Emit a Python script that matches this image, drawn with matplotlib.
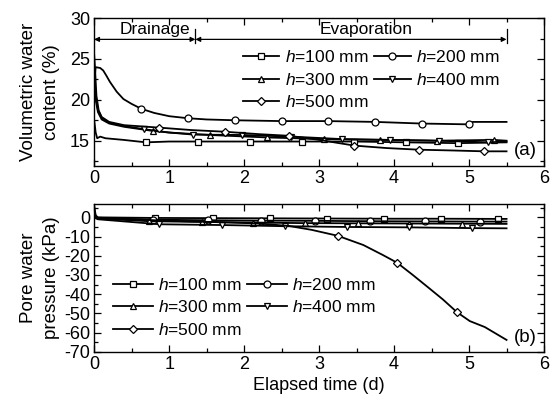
import matplotlib
matplotlib.use("Agg")
import matplotlib.pyplot as plt
from matplotlib.ticker import MultipleLocator

plt.rcParams["font.family"] = ["Liberation Sans", "DejaVu Sans"]
plt.rcParams["mathtext.fontset"] = "custom"
plt.rcParams["mathtext.rm"] = "Liberation Sans"
plt.rcParams["mathtext.it"] = "Liberation Sans:italic"
plt.rcParams["axes.unicode_minus"] = False

labels = [r"$h$=100 mm", r"$h$=200 mm", r"$h$=300 mm", r"$h$=400 mm", r"$h$=500 mm"]
markers = ["s", "o", "^", "v", "D"]

# (a) volumetric water content (%), time in days
vwc_t100 = [0, 0.02, 0.04, 0.06, 0.08, 0.15, 0.39, 0.69, 1.0, 1.39, 2.08, 2.77, 3.47, 4.16, 4.85, 5.5]
vwc_100 = [17.5, 16.0, 15.3, 15.4, 15.5, 15.3, 15.1, 14.8, 14.9, 14.9, 14.9, 14.9, 14.9, 14.8, 14.7, 14.8]
vwc_m100 = [0.69, 1.39, 2.08, 2.77, 3.47, 4.16, 4.85]

vwc_t200 = [0, 0.02, 0.08, 0.12, 0.16, 0.21, 0.3, 0.39, 0.5, 0.63, 0.8, 1.0, 1.25, 1.5, 1.88,
            2.5, 3.12, 3.75, 4.37, 5.0, 5.05, 5.5]
vwc_200 = [22.0, 24.0, 23.9, 23.6, 23.0, 22.2, 21.0, 20.1, 19.5, 18.9, 18.4, 18.0, 17.75, 17.6, 17.5,
           17.4, 17.4, 17.3, 17.1, 17.0, 17.3, 17.3]
vwc_m200 = [0.63, 1.25, 1.88, 2.5, 3.12, 3.75, 4.37, 5.0]

vwc_t300 = [0, 0.02, 0.05, 0.1, 0.2, 0.4, 0.78, 1.0, 1.54, 2.3, 3.06, 3.81, 4.57, 5.33, 5.5]
vwc_300 = [22.5, 20.0, 18.5, 17.6, 17.1, 16.7, 16.2, 16.0, 15.7, 15.4, 15.2, 15.1, 15.0, 15.1, 15.0]
vwc_m300 = [0.78, 1.54, 2.3, 3.06, 3.81, 4.57, 5.33]

vwc_t400 = [0, 0.02, 0.05, 0.1, 0.2, 0.4, 0.67, 1.0, 1.32, 1.97, 2.63, 3.3, 3.95, 4.6, 5.25, 5.5]
vwc_400 = [23.0, 20.5, 18.8, 17.8, 17.2, 16.8, 16.4, 16.0, 15.75, 15.7, 15.5, 15.2, 15.1, 15.0, 14.8, 14.9]
vwc_m400 = [0.67, 1.32, 1.97, 2.63, 3.3, 3.95, 4.6, 5.25]

vwc_t500 = [0, 0.01, 0.03, 0.06, 0.1, 0.2, 0.4, 0.87, 1.3, 1.74, 2.2, 2.6, 3.0, 3.47, 3.9, 4.33,
            4.8, 5.2, 5.5]
vwc_500 = [25.5, 24.0, 20.5, 18.7, 17.9, 17.3, 16.9, 16.6, 16.3, 16.1, 15.8, 15.6, 15.1, 14.4, 14.1, 13.9,
           13.8, 13.7, 13.7]
vwc_m500 = [0.87, 1.74, 2.6, 3.47, 4.33, 5.2]

# (b) pore water pressure (kPa)
pwp_t100 = [0, 0.02, 0.05, 0.81, 1.58, 2.35, 3.1, 3.87, 4.63, 5.39, 5.5]
pwp_100 = [6.0, 1.0, 0.0, -0.3, -0.4, -0.5, -0.6, -0.7, -0.7, -0.8, -0.8]
pwp_m100 = [0.81, 1.58, 2.35, 3.1, 3.87, 4.63, 5.39]

pwp_t200 = [0, 0.02, 0.05, 0.78, 1.52, 2.23, 2.95, 3.68, 4.41, 5.14, 5.5]
pwp_200 = [3.0, 0.5, -0.3, -1.2, -1.5, -1.7, -1.8, -2.0, -2.1, -2.2, -2.2]
pwp_m200 = [0.78, 1.52, 2.23, 2.95, 3.68, 4.41, 5.14]

pwp_t300 = [0, 0.02, 0.05, 0.73, 1.44, 2.12, 2.81, 3.52, 4.2, 4.9, 5.5]
pwp_300 = [2.0, 0.0, -0.6, -2.0, -2.4, -2.7, -3.0, -3.1, -3.2, -3.3, -3.4]
pwp_m300 = [0.73, 1.44, 2.12, 2.81, 3.52, 4.2, 4.9]

pwp_t400 = [0, 0.02, 0.05, 0.87, 1.71, 2.54, 3.37, 4.2, 5.04, 5.5]
pwp_400 = [1.0, -0.5, -1.0, -3.6, -4.0, -4.6, -5.0, -5.2, -5.6, -5.7]
pwp_m400 = [0.87, 1.71, 2.54, 3.37, 4.2, 5.04]

pwp_t500 = [0, 0.02, 0.05, 0.5, 1.0, 1.65, 2.2, 2.6, 2.9, 3.25, 3.59, 3.85, 4.04, 4.25, 4.44,
            4.65, 4.84, 5.01, 5.21, 5.5]
pwp_500 = [4.0, 0.5, -0.5, -1.0, -1.8, -2.5, -3.2, -4.5, -6.5, -9.6, -14.4, -19.6, -23.6, -30.0, -36.0,
           -42.7, -49.4, -54.0, -57.1, -63.8]
pwp_m500 = [3.25, 4.04, 4.84]

phase_edges = [0, 1.35, 5.5]
phase_names = ["Drainage", "Evaporation"]
phase_label_x = [0.81, 3.63]

vwc_series = [(vwc_t100, vwc_100, vwc_m100), (vwc_t200, vwc_200, vwc_m200),
              (vwc_t300, vwc_300, vwc_m300), (vwc_t400, vwc_400, vwc_m400),
              (vwc_t500, vwc_500, vwc_m500)]
pwp_series = [(pwp_t100, pwp_100, pwp_m100), (pwp_t200, pwp_200, pwp_m200),
              (pwp_t300, pwp_300, pwp_m300), (pwp_t400, pwp_400, pwp_m400),
              (pwp_t500, pwp_500, pwp_m500)]

# legend fills column-wise; this order reads row-wise like the original
legend_order = [0, 2, 4, 1, 3]


def draw_series(ax, series):
    lines = []
    for (t, v, marks), label, mk in zip(series, labels, markers):
        every = [i for i, ti in enumerate(t) if ti in marks]
        ln, = ax.plot(t, v, color="black", lw=1.3, marker=mk, ms=5 if mk != "D" else 4.5,
                      mfc="white", mec="black", mew=0.9, markevery=every, label=label)
        lines.append(ln)
    return [lines[i] for i in legend_order]


def style_axes(ax):
    ax.set_xlim(0, 6)
    ax.xaxis.set_major_locator(MultipleLocator(1))
    ax.xaxis.set_minor_locator(MultipleLocator(0.5))
    ax.tick_params(which="both", direction="in", top=True, right=True, width=0.9)
    ax.tick_params(which="major", length=5, labelsize=13, pad=3)
    ax.tick_params(which="minor", length=3)
    for sp in ax.spines.values():
        sp.set_linewidth(1.0)


fig = plt.figure(figsize=(5.54, 4.03), dpi=100)
ax1 = fig.add_axes([0.170, 0.588, 0.812, 0.367])
ax2 = fig.add_axes([0.170, 0.127, 0.812, 0.367])

# panel (a)
handles = draw_series(ax1, vwc_series)
style_axes(ax1)
ax1.set_ylim(11.9, 30)
ax1.yaxis.set_major_locator(MultipleLocator(5))
ax1.yaxis.set_minor_locator(MultipleLocator(2.5))
ax1.set_ylabel("Volumetric water\ncontent (%)", fontsize=13.5, linespacing=1.5)
ax1.yaxis.set_label_coords(-0.075, 0.5)
ax1.text(0.958, 0.108, "(a)", transform=ax1.transAxes, ha="center", va="center", fontsize=13.5)

arrow_y = 27.4
for i, name in enumerate(phase_names):
    x0, x1 = phase_edges[i], phase_edges[i + 1]
    ax1.annotate("", xy=(x0, arrow_y), xytext=(x1, arrow_y),
                 arrowprops=dict(arrowstyle="<|-|>", color="black", lw=0.9,
                                 mutation_scale=7, shrinkA=0, shrinkB=0))
    ax1.text(phase_label_x[i], 28.55, name, ha="center", va="center", fontsize=12.5)
for x in phase_edges[1:]:
    ax1.plot([x, x], [27.0, 28.7], color="black", lw=0.9)

ax1.legend(handles=handles, ncol=2, loc="upper left", bbox_to_anchor=(0.4386, 0.878),
           bbox_transform=fig.transFigure, frameon=False, fontsize=12.5,
           borderpad=0, borderaxespad=0, handlelength=2.1, handletextpad=0.3,
           columnspacing=0.35, labelspacing=0.38)

# panel (b)
handles = draw_series(ax2, pwp_series)
style_axes(ax2)
ax2.set_ylim(-70, 7)
ax2.yaxis.set_major_locator(MultipleLocator(10))
ax2.yaxis.set_minor_locator(MultipleLocator(5))
ax2.set_ylabel("Pore water\npressure (kPa)", fontsize=13.5, linespacing=1.5)
ax2.yaxis.set_label_coords(-0.075, 0.5)
ax2.set_xlabel("Elapsed time (d)", fontsize=13, labelpad=3)
ax2.text(0.958, 0.095, "(b)", transform=ax2.transAxes, ha="center", va="center", fontsize=13.5)

ax2.legend(handles=handles, ncol=2, loc="upper left", bbox_to_anchor=(0.204, 0.313),
           bbox_transform=fig.transFigure, frameon=False, fontsize=12.5,
           borderpad=0, borderaxespad=0, handlelength=2.3, handletextpad=0.3,
           columnspacing=0.3, labelspacing=0.38)

fig.savefig("out.png", dpi=100)
plt.close(fig)
